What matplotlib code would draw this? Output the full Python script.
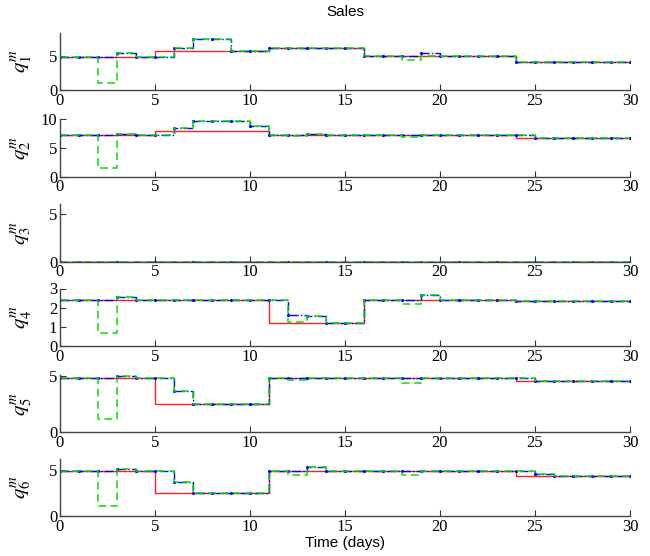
import matplotlib.pyplot as plt
import numpy as np


plt.rcParams["font.family"] = ["Liberation Serif", "DejaVu Serif"]
plt.rcParams["mathtext.fontset"] = "stix"


# =====================================================
# DATA (one value per day, day 0 .. day 30)
# =====================================================

days = np.arange(31)

red_1 = [4.9, 4.9, 4.9, 4.9, 4.9, 5.7, 5.7, 5.7, 5.7, 5.7, 5.7,
         6.2, 6.2, 6.2, 6.2, 6.2, 5.0, 5.0, 5.0, 5.0, 5.0, 5.0, 5.0, 5.0,
         4.2, 4.2, 4.2, 4.2, 4.2, 4.2, 4.2]
blue_1 = [4.9, 4.9, 4.9, 5.5, 4.9, 4.9, 6.2, 7.5, 7.5, 5.8, 5.8,
          6.2, 6.2, 6.2, 6.2, 6.2, 5.0, 5.0, 5.0, 5.5, 5.0, 5.0, 5.0, 5.0,
          4.2, 4.2, 4.2, 4.2, 4.2, 4.2, 4.2]
green_1 = [4.9, 4.9, 1.0, 5.5, 4.9, 4.9, 6.2, 7.5, 7.5, 5.8, 5.8,
           6.2, 6.2, 6.2, 6.2, 6.2, 5.0, 5.0, 4.4, 5.0, 5.0, 5.0, 5.0, 5.0,
           4.2, 4.2, 4.2, 4.2, 4.2, 4.2, 4.2]

red_2 = [7.3, 7.3, 7.3, 7.3, 7.3, 8.0, 8.0, 8.0, 8.0, 8.0, 8.0,
         7.3, 7.3, 7.3, 7.3, 7.3, 7.3, 7.3, 7.3, 7.3, 7.3, 7.3, 7.3, 7.3,
         6.8, 6.8, 6.8, 6.8, 6.8, 6.8, 6.8]
blue_2 = [7.3, 7.3, 7.3, 7.5, 7.3, 7.3, 8.5, 9.7, 9.7, 9.7, 8.9,
          7.3, 7.3, 7.45, 7.3, 7.3, 7.3, 7.3, 7.3, 7.3, 7.3, 7.3, 7.3, 7.3,
          7.3, 6.8, 6.8, 6.8, 6.8, 6.8, 6.8]
green_2 = [7.3, 7.3, 1.45, 7.5, 7.3, 7.3, 8.5, 9.7, 9.7, 9.7, 8.9,
           7.3, 7.05, 7.45, 7.3, 7.3, 7.3, 7.3, 6.85, 7.3, 7.3, 7.3, 7.3, 7.3,
           7.3, 6.8, 6.8, 6.8, 6.8, 6.8, 6.8]

red_3 = [0.0] * 31
blue_3 = [0.0] * 31
green_3 = [0.0] * 31

red_4 = [2.4, 2.4, 2.4, 2.4, 2.4, 2.4, 2.4, 2.4, 2.4, 2.4, 2.4,
         1.2, 1.2, 1.2, 1.2, 1.2, 2.4, 2.4, 2.4, 2.4, 2.4, 2.4, 2.4, 2.4,
         2.37, 2.37, 2.37, 2.37, 2.37, 2.37, 2.37]
blue_4 = [2.4, 2.4, 2.4, 2.56, 2.4, 2.4, 2.4, 2.4, 2.4, 2.4, 2.4,
          2.4, 1.6, 1.54, 1.2, 1.2, 2.4, 2.4, 2.4, 2.67, 2.42, 2.42, 2.42, 2.42,
          2.37, 2.37, 2.37, 2.37, 2.37, 2.37, 2.37]
green_4 = [2.4, 2.4, 0.67, 2.56, 2.4, 2.4, 2.4, 2.4, 2.4, 2.4, 2.4,
           2.4, 1.26, 1.54, 1.2, 1.2, 2.4, 2.4, 2.2, 2.67, 2.42, 2.42, 2.42, 2.42,
           2.37, 2.37, 2.37, 2.37, 2.37, 2.37, 2.37]

red_5 = [4.9, 4.9, 4.9, 4.9, 4.9, 2.5, 2.5, 2.5, 2.5, 2.5, 2.5,
         4.9, 4.9, 4.9, 4.9, 4.9, 4.9, 4.9, 4.9, 4.9, 4.9, 4.9, 4.9, 4.9,
         4.55, 4.55, 4.55, 4.55, 4.55, 4.55, 4.55]
blue_5 = [4.9, 4.9, 4.9, 5.05, 4.9, 4.9, 3.7, 2.5, 2.5, 2.5, 2.5,
          4.9, 4.9, 4.9, 4.9, 4.9, 4.9, 4.9, 4.9, 4.9, 4.9, 4.9, 4.9, 4.9,
          4.9, 4.55, 4.55, 4.55, 4.55, 4.55, 4.55]
green_5 = [4.9, 4.9, 1.16, 5.05, 4.9, 4.9, 3.7, 2.5, 2.5, 2.5, 2.5,
           4.9, 4.65, 4.9, 4.9, 4.9, 4.9, 4.9, 4.45, 4.9, 4.9, 4.9, 4.9, 4.9,
           4.9, 4.55, 4.55, 4.55, 4.55, 4.55, 4.55]

red_6 = [4.9, 4.9, 4.9, 4.9, 4.9, 2.5, 2.5, 2.5, 2.5, 2.5, 2.5,
         4.9, 4.9, 4.9, 4.9, 4.9, 4.9, 4.9, 4.9, 4.9, 4.9, 4.9, 4.9, 4.9,
         4.35, 4.35, 4.35, 4.35, 4.35, 4.35, 4.35]
blue_6 = [4.9, 4.9, 4.9, 5.05, 4.9, 4.9, 3.7, 2.5, 2.5, 2.5, 2.5,
          4.9, 4.9, 5.3, 4.9, 4.9, 4.9, 4.9, 4.9, 4.9, 4.9, 4.9, 4.9, 4.9,
          4.9, 4.55, 4.35, 4.35, 4.35, 4.35, 4.35]
green_6 = [4.9, 4.9, 1.07, 5.05, 4.9, 4.9, 3.7, 2.5, 2.5, 2.5, 2.5,
           4.9, 4.45, 5.3, 4.9, 4.9, 4.9, 4.9, 4.45, 4.9, 4.9, 4.9, 4.9, 4.9,
           4.9, 4.55, 4.35, 4.35, 4.35, 4.35, 4.35]

reds = [red_1, red_2, red_3, red_4, red_5, red_6]
blues = [blue_1, blue_2, blue_3, blue_4, blue_5, blue_6]
greens = [green_1, green_2, green_3, green_4, green_5, green_6]

y_tops = [8.5, 10, 6, 3, 5.15, 6.2]
y_ticks = [[0, 5], [0, 5, 10], [0, 5], [0, 1, 2, 3], [0, 5], [0, 5]]
x_ticks = [0, 5, 10, 15, 20, 25, 30]


# =====================================================
# FIGURE
# =====================================================

fig = plt.figure(figsize=(6.5, 5.56), dpi=100)

left = 60 / 650
width = 570 / 650
height = 57.5 / 556
bottoms_px = [90, 176.7, 261.7, 346, 432.3, 516]

for i in range(6):

    ax = fig.add_axes([left, 1 - bottoms_px[i] / 556, width, height])

    ax.plot(days, reds[i], drawstyle="steps-post",
            color="#ff2020", lw=1.0)

    ax.plot(days, blues[i], drawstyle="steps-post",
            color="#0000ff", lw=1.0, ls="-.",
            marker=".", markersize=2.5)

    ax.plot(days, greens[i], drawstyle="steps-post",
            color="#00e000", lw=1.1, ls=(0, (5, 3)))

    ax.set_xlim(0, 30)
    ax.set_ylim(0, y_tops[i])

    ax.set_xticks(x_ticks)
    ax.set_yticks(y_ticks[i])

    ax.tick_params(direction="in", length=4, labelsize=12,
                   color="#333333", pad=2)

    for side in ["top", "right"]:
        ax.spines[side].set_visible(False)

    for side in ["left", "bottom"]:
        ax.spines[side].set_color("#444444")
        ax.spines[side].set_linewidth(1.0)

    ax.set_ylabel(r"$q_{\mathit{%d}}^{m}$" % (i + 1), fontsize=15, labelpad=0)
    ax.yaxis.set_label_coords(-0.045, 0.5)

    if i == 0:
        ax.set_title("Sales", fontsize=11, family="Liberation Sans", pad=12)

    if i == 5:
        ax.set_xlabel("Time (days)", fontsize=11,
                      family="Liberation Sans", labelpad=1)


plt.savefig(
    "out.png",
    dpi=100
)

plt.close()
